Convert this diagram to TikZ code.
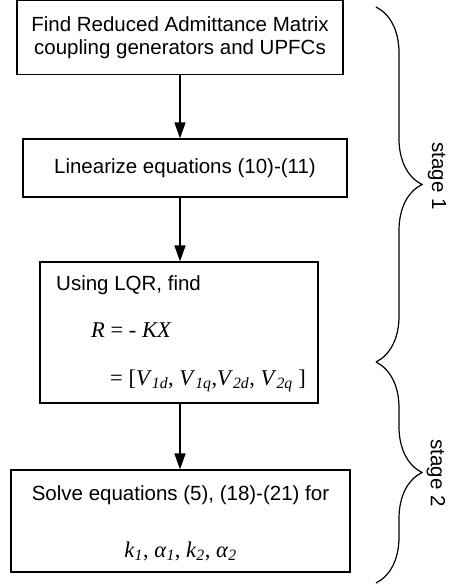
\documentclass[tikz,border=0pt]{standalone}
\usepackage{fontspec}
\setmainfont{Liberation Sans}
\newfontfamily\tnr{Liberation Serif}
\usetikzlibrary{arrows.meta,decorations.pathreplacing}
\newcommand{\vsub}[1]{\textsubscript{\itshape #1}}
\begin{document}
\begin{tikzpicture}[x=1pt, y=-1pt,
    every node/.style={font=\fontsize{20.5}{23}\selectfont, inner sep=0pt},
    box/.style={draw, line width=1.2pt, align=center},
    eqn/.style={font=\fontsize{22.5}{26}\selectfont\tnr},
    flow/.style={line width=1.5pt, -{Triangle[length=16pt, width=11pt]}},
    stagebrace/.style={decorate, decoration={brace, amplitude=46pt}, line width=1.2pt}]
    \path[use as bounding box] (0,0) rectangle (453,588);
    \node[box, minimum width=326pt, minimum height=74pt] (find) at (180,37.5) {Find Reduced Admittance Matrix\\coupling generators and UPFCs};
    \node[box, minimum width=324pt, minimum height=58pt] (lin) at (185,168) {Linearize equations (10)-(11)};
    \node[box, minimum width=278pt, minimum height=141pt] (lqr) at (179,332.5) {};
    \node[anchor=base west] (using) at (56,290) {Using LQR, find};
    \node[eqn, anchor=base west] (gain) at (91,337) {\textit{R} = - \textit{KX}};
    \node[eqn, anchor=base west] (vvec) at (110,385) {= [\textit{V}\vsub{1d}, \textit{V}\vsub{1q},\textit{V}\vsub{2d}, \textit{V}\vsub{2q} ]};
    \node[box, minimum width=339pt, minimum height=102pt] (solve) at (180.5,521) {};
    \node[anchor=base] (solvetxt) at (180.5,500) {Solve equations (5), (18)-(21) for};
    \node[eqn, anchor=base] (gains) at (180.5,557) {\textit{k}\vsub{1}, \textit{α}\vsub{1}, \textit{k}\vsub{2}, \textit{α}\vsub{2}};

    \draw[flow] (find.south) -- (find.south |- lin.north);
    \draw[flow] (find.south |- lin.south) -- (find.south |- lqr.north);
    \draw[flow] (find.south |- lqr.south) -- (find.south |- solve.north);

    \coordinate (b1top) at (376,7);
    \coordinate (bmid) at (376,362);
    \coordinate (b2bot) at (376,583);
    \draw[stagebrace] (b1top) -- (bmid);
    \draw[stagebrace] (bmid) -- (b2bot);
    \node[rotate=-90] (stage1) at (437,176) {stage 1};
    \node[rotate=-90] (stage2) at (436,473) {stage 2};
\end{tikzpicture}
\end{document}
